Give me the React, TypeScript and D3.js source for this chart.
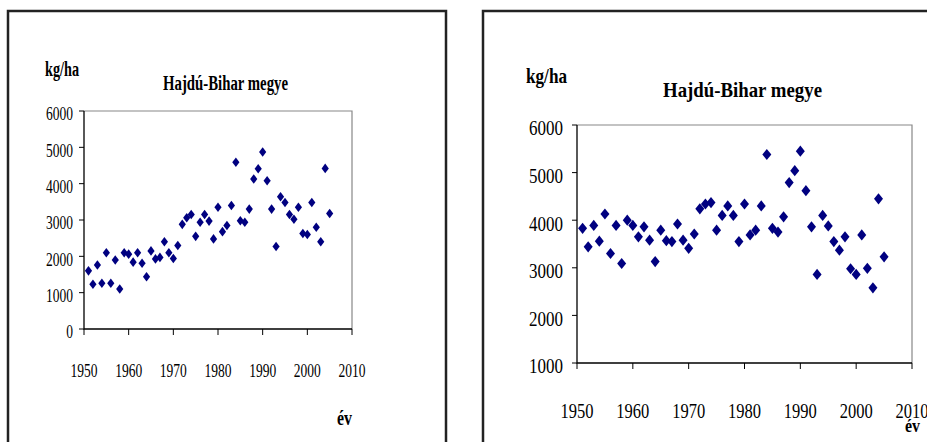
import { useEffect, useRef } from "react";
import * as d3 from "d3";

// years shared by both scatter plots
const years = [
  1951, 1952, 1953, 1954, 1955, 1956, 1957, 1958, 1959, 1960,
  1961, 1962, 1963, 1964, 1965, 1966, 1967, 1968, 1969, 1970,
  1971, 1972, 1973, 1974, 1975, 1976, 1977, 1978, 1979, 1980,
  1981, 1982, 1983, 1984, 1985, 1986, 1987, 1988, 1989, 1990,
  1991, 1992, 1993, 1994, 1995, 1996, 1997, 1998, 1999, 2000,
  2001, 2002, 2003, 2004, 2005,
];

// left panel (kg/ha)
const leftValues = [
  1600, 1230, 1760, 1260, 2100, 1260, 1900, 1100, 2100, 2060,
  1840, 2100, 1810, 1440, 2150, 1930, 1970, 2400, 2100, 1940,
  2300, 2880, 3060, 3150, 2550, 2940, 3150, 2970, 2480, 3350,
  2680, 2850, 3400, 4590, 2980, 2940, 3300, 4130, 4410, 4870,
  4080, 3300, 2270, 3640, 3480, 3150, 3020, 3350, 2630, 2600,
  3480, 2800, 2400, 4420, 3180,
];

// right panel (kg/ha)
const rightValues = [
  3830, 3440, 3890, 3560, 4130, 3300, 3890, 3090, 4000, 3890,
  3650, 3860, 3580, 3130, 3790, 3570, 3550, 3920, 3580, 3410,
  3710, 4240, 4340, 4370, 3790, 4100, 4300, 4100, 3550, 4340,
  3690, 3790, 4300, 5380, 3830, 3750, 4070, 4790, 5040, 5450,
  4620, 3860, 2860, 4100, 3880, 3550, 3370, 3650, 2980, 2860,
  3690, 2990, 2580, 4450, 3230,
];

const xTicks = [1950, 1960, 1970, 1980, 1990, 2000, 2010];
const leftYTicks = [0, 1000, 2000, 3000, 4000, 5000, 6000];
const rightYTicks = [1000, 2000, 3000, 4000, 5000, 6000];

const yLabel = "kg/ha";
const xLabel = "év";
const title = "Hajdú-Bihar megye";

const FONT = "'Liberation Serif', 'Times New Roman', serif";
const MARKER = "#000080";

interface Box { x: number; y: number; size: number; len: number }

interface Panel {
  values: number[];
  yTicks: number[];
  frame: [number, number, number, number];
  plot: { x0: number; x1: number; top: number; bottom: number };
  yLab: { right: number; size: number; len: number };
  xLab: { base: number; size: number; len: number };
  unit: Box;
  head: Box;
  ev: Box;
  mk: [number, number];
}

const panels: Panel[] = [
  {
    values: leftValues,
    yTicks: leftYTicks,
    frame: [8, 11, 438, 470],
    plot: { x0: 84, x1: 352, top: 111, bottom: 329 },
    yLab: { right: 73, size: 18, len: 27 },
    xLab: { base: 377, size: 19, len: 27 },
    unit: { x: 45, y: 76, size: 20, len: 34 },
    head: { x: 163, y: 90, size: 20, len: 125 },
    ev: { x: 337, y: 425, size: 20, len: 15 },
    mk: [3.6, 4.8],
  },
  {
    values: rightValues,
    yTicks: rightYTicks,
    frame: [483, 11, 520, 470],
    plot: { x0: 577, x1: 912, top: 125, bottom: 363 },
    yLab: { right: 563, size: 20, len: 34 },
    xLab: { base: 418, size: 22, len: 33 },
    unit: { x: 526, y: 83, size: 21, len: 41 },
    head: { x: 663, y: 97, size: 22, len: 159 },
    ev: { x: 905, y: 432, size: 18, len: 15 },
    mk: [4.5, 5.6],
  },
];

function drawPanel(svg: d3.Selection<SVGSVGElement, unknown, null, undefined>, p: Panel) {
  const g = svg.append("g");
  const x = d3.scaleLinear().domain([1950, 2010]).range([p.plot.x0, p.plot.x1]);
  const y = d3
    .scaleLinear()
    .domain([p.yTicks[0], p.yTicks[p.yTicks.length - 1]])
    .range([p.plot.bottom, p.plot.top]);

  const [fx, fy, fw, fh] = p.frame;
  g.append("rect")
    .attr("x", fx).attr("y", fy).attr("width", fw).attr("height", fh)
    .attr("fill", "#fff").attr("stroke", "#222").attr("stroke-width", 2.5);

  // plot box: gray top/right, black axes
  g.append("path")
    .attr("d", `M${p.plot.x0},${p.plot.top}H${p.plot.x1}V${p.plot.bottom}`)
    .attr("fill", "none").attr("stroke", "#888").attr("stroke-width", 1.2);
  g.append("path")
    .attr("d", `M${p.plot.x0},${p.plot.top}V${p.plot.bottom}H${p.plot.x1}`)
    .attr("fill", "none").attr("stroke", "#000").attr("stroke-width", 1.3);

  g.append("g").selectAll("line").data(p.yTicks).join("line")
    .attr("x1", p.plot.x0 - 5).attr("x2", p.plot.x0)
    .attr("y1", (d) => y(d)).attr("y2", (d) => y(d))
    .attr("stroke", "#000");
  g.append("g").selectAll("line").data(xTicks).join("line")
    .attr("x1", (d) => x(d)).attr("x2", (d) => x(d))
    .attr("y1", p.plot.bottom).attr("y2", p.plot.bottom + 6)
    .attr("stroke", "#000");

  // squeezed serif numbers, width proportional to digit count
  const perDigit = p.yLab.len / 4;
  g.append("g").selectAll("text").data(p.yTicks).join("text")
    .attr("x", (d) => p.yLab.right - perDigit * String(d).length)
    .attr("y", (d) => y(d) + p.yLab.size * 0.52)
    .attr("font-family", FONT).attr("font-size", p.yLab.size)
    .attr("textLength", (d) => perDigit * String(d).length)
    .attr("lengthAdjust", "spacingAndGlyphs")
    .text((d) => String(d));

  g.append("g").selectAll("text").data(xTicks).join("text")
    .attr("x", (d) => x(d) - p.xLab.len / 2).attr("y", p.xLab.base)
    .attr("font-family", FONT).attr("font-size", p.xLab.size)
    .attr("textLength", p.xLab.len).attr("lengthAdjust", "spacingAndGlyphs")
    .text((d) => String(d));

  const label = (t: string, o: Box) =>
    g.append("text")
      .attr("x", o.x).attr("y", o.y)
      .attr("font-family", FONT).attr("font-weight", "bold").attr("font-size", o.size)
      .attr("textLength", o.len).attr("lengthAdjust", "spacingAndGlyphs")
      .text(t);
  label(yLabel, p.unit);
  label(title, p.head);
  label(xLabel, p.ev);

  const [w, h] = p.mk;
  g.append("g").selectAll("path").data(years).join("path")
    .attr("transform", (d, i) => `translate(${x(d)},${y(p.values[i])})`)
    .attr("d", `M0,${-h}L${w},0L0,${h}L${-w},0Z`)
    .attr("fill", MARKER);
}

export default function App() {
  const svgRef = useRef<SVGSVGElement>(null);

  useEffect(() => {
    if (!svgRef.current) return;
    const svg = d3.select(svgRef.current);
    svg.selectAll("*").remove();
    panels.forEach((p) => drawPanel(svg, p));
  }, []);

  return (
    <svg
      ref={svgRef}
      width={927}
      height={442}
      style={{ position: "absolute", left: 0, top: 0, background: "#fff" }}
    />
  );
}
